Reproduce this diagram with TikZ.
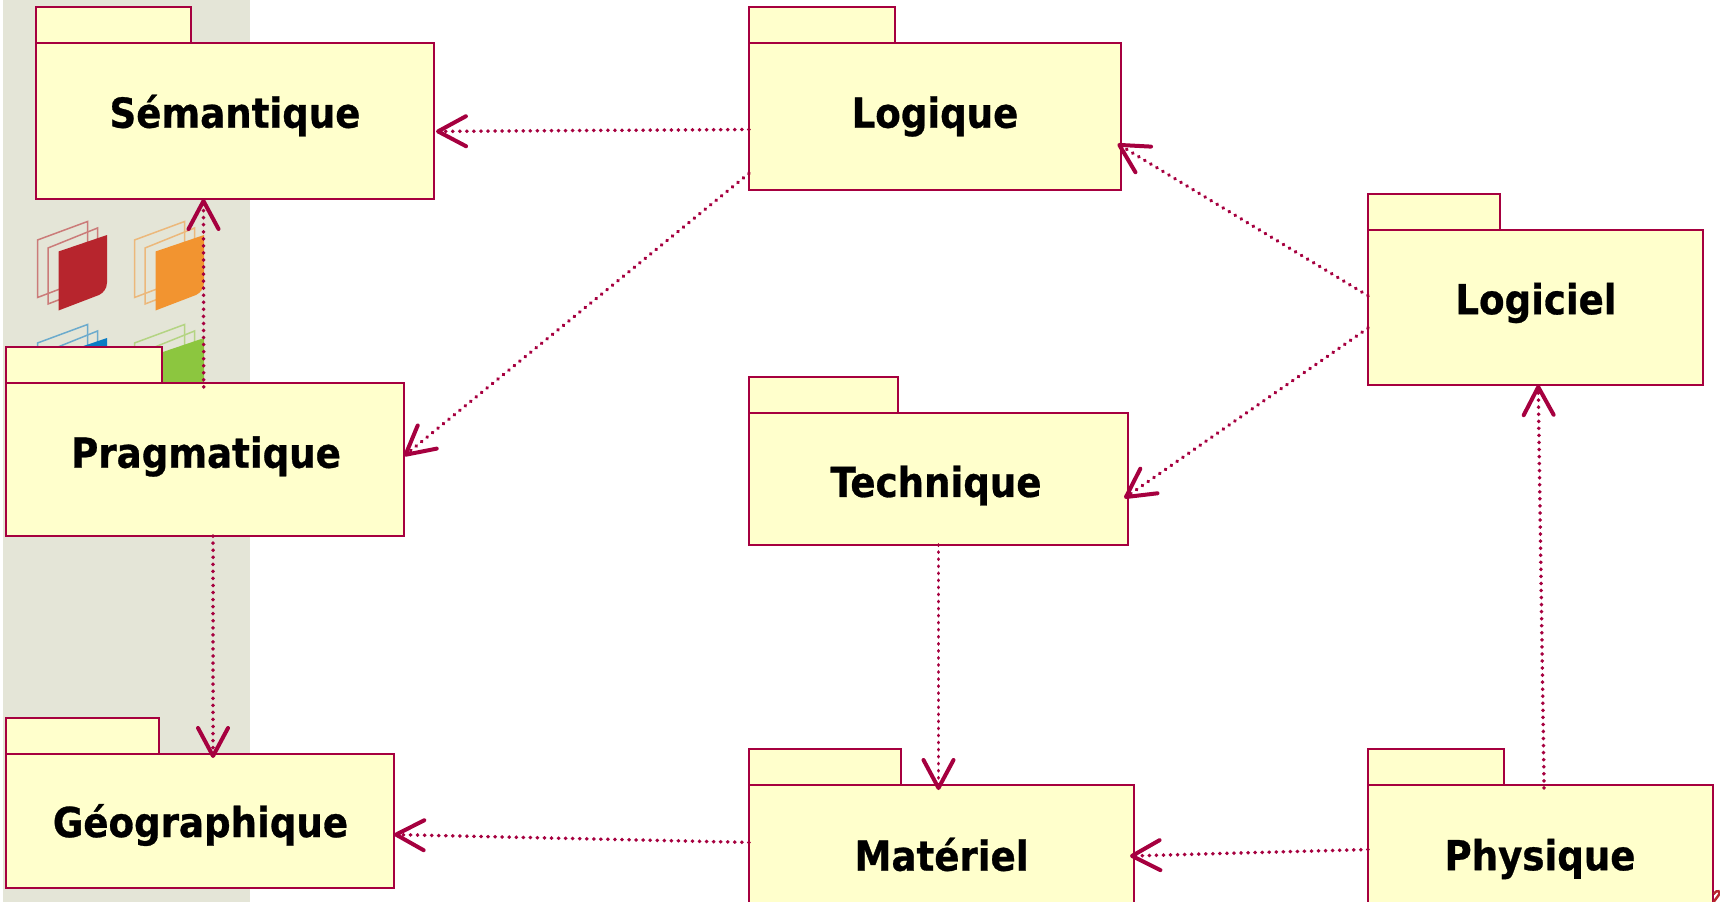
\documentclass[tikz,border=0pt]{standalone}
\usepackage{fontspec}
\setmainfont{DejaVu Sans Condensed}[BoldFeatures={FakeBold=0.7}]
\usetikzlibrary{positioning,arrows.meta}
\definecolor{pkgline}{HTML}{A6003F}
\definecolor{pkgfill}{HTML}{FFFFCC}
\definecolor{panelgrey}{HTML}{E4E5D7}
\definecolor{iconred}{HTML}{B7252D}
\definecolor{iconorange}{HTML}{F29430}
\definecolor{iconblue}{HTML}{0A7CC4}
\definecolor{icongreen}{HTML}{8CC63F}

\begin{document}
\begin{tikzpicture}[
  pkg/.style={draw=pkgline, fill=pkgfill, line width=0.04cm, outer sep=0pt, inner sep=0pt},
  tab/.style={pkg, minimum height=0.72cm},
  title/.style={font=\fontsize{23.5}{28}\selectfont\bfseries, inner sep=0pt},
  dep/.style={draw=pkgline, line width=0.075cm, line cap=round, dash pattern=on 0.005cm off 0.136cm,
    -{Straight Barb[length=0.56cm, width=0.60cm, line width=0.08cm, round]}}
]
  \useasboundingbox (0,0) rectangle (34.4,-18.04);

  % grey panel behind the left column
  \fill[panelgrey] (0.06,0) rectangle (5,-18.04);
  \foreach \dx/\dy/\col in {0/0/iconred,1.94/0/iconorange,0/-2.06/iconblue,1.94/-2.06/icongreen} {
    \begin{scope}[shift={(\dx,\dy)}]
      \draw[\col!55!panelgrey, line width=0.03cm]
        (0.75,-4.8) -- (1.75,-4.43) -- (1.75,-5.57) -- (0.75,-5.95) -- cycle;
      \draw[\col!55!panelgrey, line width=0.03cm]
        (0.96,-4.96) -- (1.95,-4.56) -- (1.95,-5.7) -- (0.96,-6.08) -- cycle;
      \fill[\col] (1.17,-5.03) -- (2.14,-4.7) -- (2.14,-5.65)
        .. controls (2.14,-5.78) and (2.06,-5.86) .. (1.98,-5.9) -- (1.17,-6.21) -- cycle;
    \end{scope}
  }

  \node[pkg, minimum width=7.96cm, minimum height=3.12cm] (semantique) at (4.70,-2.42) {};
  \node[pkg, minimum width=7.44cm, minimum height=2.94cm] (logique) at (18.70,-2.33) {};
  \node[pkg, minimum width=6.70cm, minimum height=3.10cm] (logiciel) at (30.71,-6.15) {};
  \node[pkg, minimum width=7.96cm, minimum height=3.06cm] (pragmatique) at (4.10,-9.19) {};
  \node[pkg, minimum width=7.58cm, minimum height=2.64cm] (technique) at (18.77,-9.58) {};
  \node[pkg, minimum width=7.76cm, minimum height=2.68cm] (geographique) at (4.00,-16.42) {};
  \node[pkg, minimum width=7.70cm, minimum height=2.70cm] (materiel) at (18.83,-17.05) {};
  \node[pkg, minimum width=6.90cm, minimum height=2.70cm] (physique) at (30.81,-17.05) {};

  \node[tab, minimum width=3.10cm, above right=0pt and 0pt of semantique.north west] (semantiquetab) {};
  \node[tab, minimum width=2.92cm, above right=0pt and 0pt of logique.north west] (logiquetab) {};
  \node[tab, minimum width=2.64cm, above right=0pt and 0pt of logiciel.north west] (logicieltab) {};
  \node[tab, minimum width=3.12cm, above right=0pt and 0pt of pragmatique.north west] (pragmatiquetab) {};
  \node[tab, minimum width=2.98cm, above right=0pt and 0pt of technique.north west] (techniquetab) {};
  \node[tab, minimum width=3.06cm, above right=0pt and 0pt of geographique.north west] (geographiquetab) {};
  \node[tab, minimum width=3.04cm, above right=0pt and 0pt of materiel.north west] (materieltab) {};
  \node[tab, minimum width=2.72cm, above right=0pt and 0pt of physique.north west] (physiquetab) {};

  \node[title] (semantiquename) at (4.70,-2.31) {Sémantique};
  \node[title] (logiquename) at (18.70,-2.33) {Logique};
  \node[title] (logicielname) at (30.72,-6.06) {Logiciel};
  \node[title] (pragmatiquename) at (4.12,-9.13) {Pragmatique};
  \node[title] (techniquename) at (18.72,-9.71) {Technique};
  \node[title] (geographiquename) at (4.01,-16.50) {Géographique};
  \node[title] (materielname) at (18.83,-17.09) {Matériel};
  \node[title] (physiquename) at (30.80,-17.18) {Physique};

  \draw[dep, shorten >=0.04cm] (logique.184.2) -- (semantique.-3);
  \draw[dep] (logique.197.7) -- (pragmatique.1.6);
  \draw[dep, shorten >=-0.08cm] (logiciel.176) -- (logique.-9.5);
  \draw[dep, shorten >=-0.09cm] (logiciel.187.7) -- (technique.-5);
  \draw[dep, shorten >=-0.1cm] (technique.south) -- (technique.south |- materiel.north);
  \draw[dep, shorten <=-0.06cm] (physique.87) -- (logiciel.-88);
  \draw[dep, shorten >=-0.08cm] (physique.179.6) -- (materiel.-1.3);
  \draw[dep] (materiel.177) -- (geographique.-4);
  \draw[dep, shorten <=-0.08cm] (pragmatique.91.5) -- (semantique.-112.3);
  \draw[dep, shorten >=-0.08cm] (pragmatique.-84.8) -- (geographique.79.8);

  % scrap of red at the lower right edge
  \draw[iconred, line width=0.05cm] (34.27,-17.88) .. controls (34.33,-17.78) and (34.45,-17.82) .. (34.36,-17.92) -- (34.27,-18.04);
\end{tikzpicture}
\end{document}
